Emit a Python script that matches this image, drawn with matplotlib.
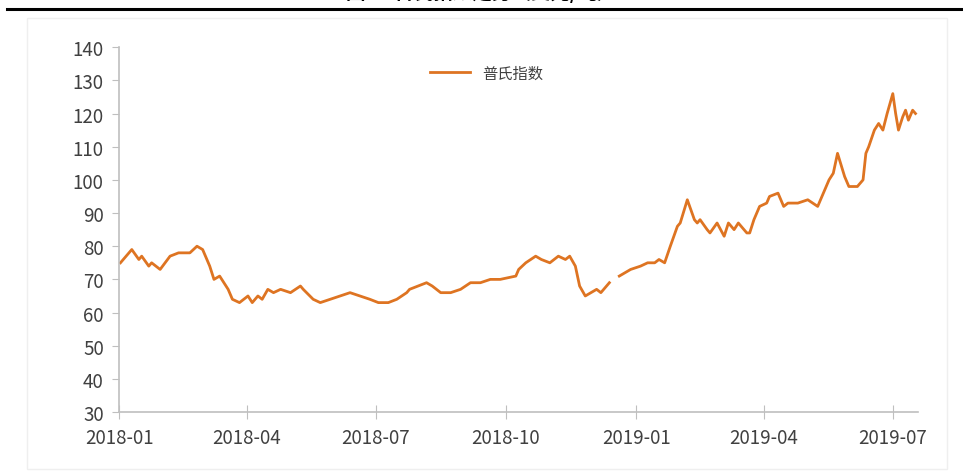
import matplotlib
matplotlib.use("Agg")
import matplotlib.pyplot as plt
import matplotlib.dates as mdates
import numpy as np
import pandas as pd

plt.rcParams['font.family'] = ['Noto Sans CJK SC', 'DejaVu Sans']

# 普氏指数
dates = [
    "2018-01-02", "2018-01-04", "2018-01-10", "2018-01-15", "2018-01-17", "2018-01-22",
    "2018-01-24", "2018-01-30", "2018-02-06", "2018-02-12", "2018-02-20", "2018-02-25",
    "2018-03-01", "2018-03-06", "2018-03-09", "2018-03-13", "2018-03-19", "2018-03-22",
    "2018-03-27", "2018-04-02", "2018-04-05", "2018-04-09", "2018-04-12", "2018-04-16",
    "2018-04-20", "2018-04-25", "2018-05-02", "2018-05-09", "2018-05-11", "2018-05-18",
    "2018-05-23", "2018-05-30", "2018-06-06", "2018-06-13", "2018-06-20", "2018-06-27",
    "2018-07-03", "2018-07-10", "2018-07-16", "2018-07-23", "2018-07-25", "2018-07-31",
    "2018-08-06", "2018-08-10", "2018-08-16", "2018-08-23", "2018-08-30", "2018-09-06",
    "2018-09-13", "2018-09-20", "2018-09-27", "2018-10-08", "2018-10-10", "2018-10-15",
    "2018-10-22", "2018-10-26", "2018-11-01", "2018-11-07", "2018-11-12", "2018-11-15",
    "2018-11-19", "2018-11-22", "2018-11-26", "2018-11-30", "2018-12-04", "2018-12-07",
    "2018-12-11", "2018-12-13", "2018-12-17", "2018-12-20", "2018-12-24", "2018-12-28",
    "2019-01-04", "2019-01-09", "2019-01-14", "2019-01-17", "2019-01-21", "2019-01-25",
    "2019-01-30", "2019-02-01", "2019-02-06", "2019-02-11", "2019-02-13", "2019-02-15",
    "2019-02-20", "2019-02-22", "2019-02-27", "2019-03-04", "2019-03-07", "2019-03-11",
    "2019-03-14", "2019-03-20", "2019-03-22", "2019-03-25", "2019-03-29", "2019-04-03",
    "2019-04-05", "2019-04-11", "2019-04-15", "2019-04-18", "2019-04-25", "2019-05-02",
    "2019-05-09", "2019-05-10", "2019-05-14", "2019-05-17", "2019-05-20", "2019-05-23",
    "2019-05-28", "2019-05-31", "2019-06-06", "2019-06-10", "2019-06-12", "2019-06-14",
    "2019-06-18", "2019-06-21", "2019-06-24", "2019-06-27", "2019-07-01", "2019-07-03",
    "2019-07-05", "2019-07-08", "2019-07-10", "2019-07-12", "2019-07-15", "2019-07-17",
]
platts = [
    75, 76, 79, 76, 77, 74,
    75, 73, 77, 78, 78, 80,
    79, 74, 70, 71, 67, 64,
    63, 65, 63, 65, 64, 67,
    66, 67, 66, 68, 67, 64,
    63, 64, 65, 66, 65, 64,
    63, 63, 64, 66, 67, 68,
    69, 68, 66, 66, 67, 69,
    69, 70, 70, 71, 73, 75,
    77, 76, 75, 77, 76, 77,
    74, 68, 65, 66, 67, 66,
    68, 69, np.nan, 71, 72, 73,
    74, 75, 75, 76, 75, 80,
    86, 87, 94, 88, 87, 88,
    85, 84, 87, 83, 87, 85,
    87, 84, 84, 88, 92, 93,
    95, 96, 92, 93, 93, 94,
    92, 93, 97, 100, 102, 108,
    101, 98, 98, 100, 108, 110,
    115, 117, 115, 120, 126, 120,
    115, 119, 121, 118, 121, 120,
]
yticks = list(range(30, 141, 10))
xtick_dates = ["2018-01-01", "2018-04-01", "2018-07-01", "2018-10-01",
               "2019-01-01", "2019-04-01", "2019-07-01"]

x = pd.to_datetime(dates)

fig = plt.figure(figsize=(9.63, 4.77), dpi=100)
ax = fig.add_axes([0.1236, 0.134, 0.83, 0.765])

# 顶部被截断的标题和黑线
fig.add_artist(plt.Line2D([0.007, 1.0], [0.978, 0.978], color='black', lw=2.2))
fig.text(0.5, 0.994, "图 4   普氏指数走势（美元/吨）", ha='center', va='bottom',
         fontsize=14, fontweight='bold', color='black')
fig.add_artist(plt.Rectangle((0.028, 0.015), 0.955, 0.945, fill=False,
                             edgecolor='#EFEFEF', lw=1))

ax.plot(x, platts, color='#DE7422', lw=2.0, label='普氏指数')

ax.set_ylim(30, 140)
ax.set_yticks(yticks)
ax.set_xlim(pd.Timestamp("2018-01-01"), pd.Timestamp("2019-07-19"))
ax.set_xticks(pd.to_datetime(xtick_dates))
ax.xaxis.set_major_formatter(mdates.DateFormatter('%Y-%m'))

for s in ['top', 'right']:
    ax.spines[s].set_visible(False)
for s in ['left', 'bottom']:
    ax.spines[s].set_color('#BFBFBF')
    ax.spines[s].set_linewidth(1.2)

ax.tick_params(axis='y', direction='out', length=5, color='#BFBFBF', labelsize=13.5,
               labelcolor='#404040', pad=6)
ax.tick_params(axis='x', direction='inout', length=10, color='#BFBFBF', labelsize=13.5,
               labelcolor='#404040', pad=6)

ax.legend(loc='upper center', bbox_to_anchor=(0.46, 0.99), frameon=False,
          fontsize=11, handlelength=2.6, labelcolor='#404040')

fig.savefig("out.png", dpi=100, facecolor='white')
